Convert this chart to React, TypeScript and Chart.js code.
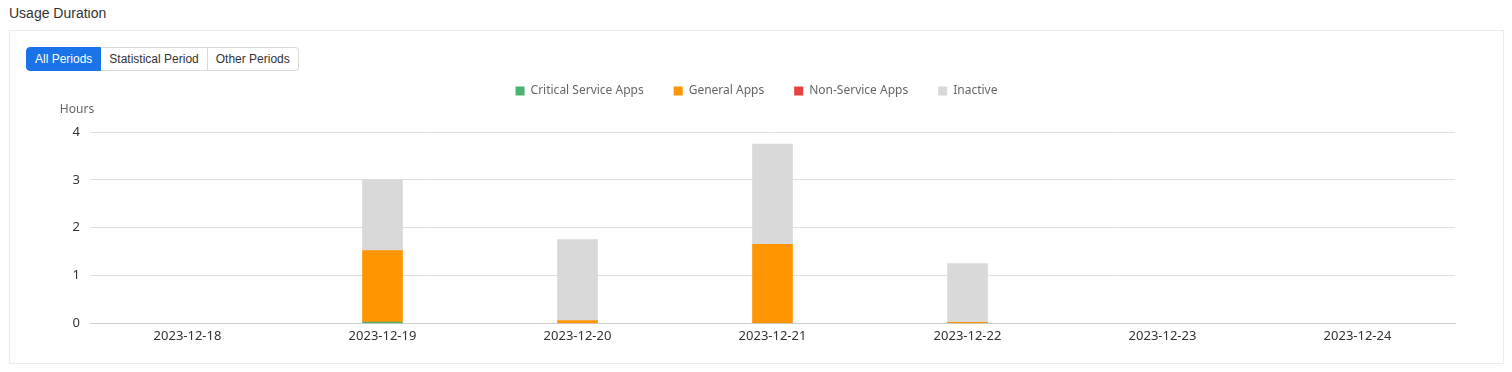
import React, { useEffect, useRef } from "react";
import { Chart, registerables } from "chart.js";

Chart.register(...registerables);

const categories = ["2023-12-18", "2023-12-19", "2023-12-20", "2023-12-21", "2023-12-22", "2023-12-23", "2023-12-24"];
const criticalService = [0, 0.03, 0, 0, 0, 0, 0];
const generalApps = [0, 1.49, 0.06, 1.65, 0.02, 0, 0];
const nonService = [0, 0, 0, 0, 0, 0, 0];
const inactive = [0, 1.48, 1.69, 2.1, 1.23, 0, 0];
const yTicks = [0, 1, 2, 3, 4];
const periodButtons = ["All Periods", "Statistical Period", "Other Periods"];

const FONT = "'Noto Sans', 'Liberation Sans', Arial, sans-serif";

const nz = (arr: number[]) => arr.map((v) => (v === 0 ? null : v));

export default function App() {
  const ref = useRef<HTMLCanvasElement | null>(null);

  useEffect(() => {
    if (!ref.current) return;
    const hoursPlugin = {
      id: "hoursTitle",
      beforeInit(chart: any) {
        const legend = chart.legend;
        if (legend) {
          const fit = legend.fit;
          legend.fit = function () {
            fit.call(this);
            this.height += 25;
          };
        }
      },
      afterDraw(chart: any) {
        const { ctx, chartArea } = chart;
        ctx.save();
        ctx.font = `12px ${FONT}`;
        ctx.fillStyle = "#666";
        ctx.textAlign = "center";
        ctx.textBaseline = "middle";
        ctx.fillText("Hours", 67, chartArea.top - 22);
        ctx.restore();
      },
    };
    const chart = new Chart(ref.current, {
      type: "bar",
      data: {
        labels: categories,
        datasets: [
          { label: "Critical Service Apps", data: nz(criticalService), backgroundColor: "#4CB271", barThickness: 40 },
          { label: "General Apps", data: nz(generalApps), backgroundColor: "#FF9500", barThickness: 40 },
          { label: "Non-Service Apps", data: nz(nonService), backgroundColor: "#E8413F", barThickness: 40 },
          { label: "Inactive", data: nz(inactive), backgroundColor: "#D9D9D9", barThickness: 40 },
        ],
      },
      options: {
        animation: false,
        responsive: false,
        maintainAspectRatio: false,
        layout: { padding: { top: 24, left: 48, right: 48, bottom: 19 } },
        plugins: {
          legend: {
            position: "top",
            labels: {
              boxWidth: 9,
              boxHeight: 9,
              padding: 30,
              color: "#666",
              font: { size: 12, family: FONT },
            },
          },
          tooltip: { enabled: false },
        },
        scales: {
          x: {
            stacked: true,
            grid: { display: false, drawTicks: true, tickLength: 5, color: "#ccc" },
            border: { color: "#ccc" },
            ticks: { color: "#333", font: { size: 13, family: FONT }, padding: 0, maxRotation: 0 },
          },
          y: {
            stacked: true,
            min: 0,
            max: 4,
            afterBuildTicks(scale: any) {
              scale.ticks = yTicks.map((v) => ({ value: v }));
            },
            afterFit(scale: any) {
              scale.width = 32;
            },
            grid: { color: "#e0e0e0", drawTicks: false },
            border: { display: false },
            ticks: { color: "#333", font: { size: 13, family: FONT }, padding: 10 },
          },
        },
      },
      plugins: [hoursPlugin],
    } as any);
    return () => chart.destroy();
  }, []);

  return (
    <div style={{ fontFamily: "'Liberation Sans', Arial, sans-serif", position: "relative" }}>
      <div style={{ fontSize: 14, color: "#333", marginLeft: 1, marginTop: -3, height: 25, lineHeight: "16px" }}>Usage Duration</div>
      <div style={{ position: "relative", marginLeft: 1, width: 1493, height: 332, border: "1px solid #ebebeb" }}>
        <canvas ref={ref} width={1493} height={332} style={{ position: "absolute", left: 0, top: 0 }} />
        <div style={{ position: "absolute", left: 16, top: 16, display: "flex", fontSize: 12 }}>
          {periodButtons.map((b, i) => (
            <div
              key={b}
              style={{
                height: 22,
                lineHeight: "22px",
                padding: "0 8px",
                border: "1px solid " + (i === 0 ? "#1a73e8" : "#d9d9d9"),
                borderLeft: i === 0 ? "1px solid #1a73e8" : "none",
                background: i === 0 ? "#1a73e8" : "#fff",
                color: i === 0 ? "#fff" : "#333",
                borderRadius: i === 0 ? "4px 0 0 4px" : i === periodButtons.length - 1 ? "0 4px 4px 0" : 0,
              }}
            >
              {b}
            </div>
          ))}
        </div>
      </div>
    </div>
  );
}
